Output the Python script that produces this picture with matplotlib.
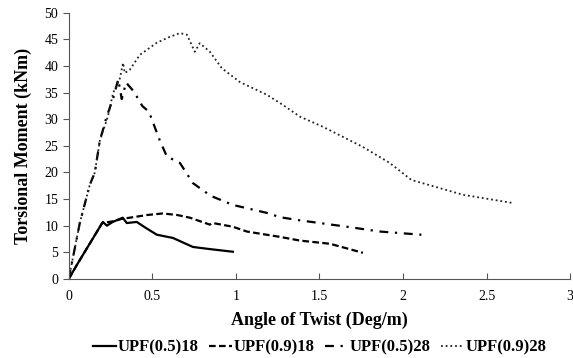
import numpy as np
import matplotlib.pyplot as plt

plt.rcParams["font.family"] = "Liberation Serif"

# UPF(0.5)18
x1 = [0, 0.05, 0.1, 0.15, 0.204, 0.228, 0.263, 0.323, 0.347, 0.407, 0.46, 0.527, 0.623, 0.743, 0.844, 0.982]
y1 = [0, 2.7, 5.3, 7.9, 10.7, 10.0, 10.7, 11.5, 10.5, 10.7, 9.6, 8.3, 7.7, 6.0, 5.6, 5.1]
# UPF(0.9)18
x2 = [0, 0.05, 0.1, 0.15, 0.2, 0.26, 0.32, 0.365, 0.467, 0.563, 0.65, 0.725, 0.844, 0.862, 0.982,
      1.066, 1.144, 1.263, 1.383, 1.563, 1.76]
y2 = [0, 2.7, 5.3, 7.9, 10.5, 10.8, 11.3, 11.5, 12.0, 12.3, 12.0, 11.5, 10.2, 10.5, 9.8,
      8.9, 8.5, 7.9, 7.2, 6.6, 4.9]
# UPF(0.5)28
x3 = [0, 0.025, 0.066, 0.126, 0.156, 0.186, 0.227, 0.266, 0.296, 0.317, 0.343, 0.39, 0.44, 0.48,
      0.545, 0.587, 0.665, 0.743, 0.85, 0.982, 1.186, 1.263, 1.383, 1.665, 1.862, 2.11]
y3 = [0, 4.0, 10.5, 17.7, 20.0, 26.0, 30.5, 34.0, 37.5, 33.8, 36.9, 35.2, 32.5, 31.4,
      26.0, 23.0, 21.8, 18.0, 15.6, 13.9, 12.4, 11.6, 11.0, 9.8, 8.9, 8.3]
# UPF(0.9)28
x4 = [0, 0.025, 0.066, 0.126, 0.156, 0.186, 0.234, 0.266, 0.305, 0.325, 0.335, 0.365, 0.425,
      0.527, 0.605, 0.665, 0.707, 0.754, 0.784, 0.844, 0.916, 1.024, 1.186, 1.281, 1.383,
      1.52, 1.76, 1.92, 2.05, 2.36, 2.65]
y4 = [0, 4.0, 10.5, 17.7, 20.0, 26.0, 30.5, 35.0, 37.6, 40.6, 38.7, 39.3, 42.1,
      44.4, 45.5, 46.2, 45.9, 42.7, 44.3, 42.7, 39.6, 37.0, 34.6, 32.7, 30.5,
      28.6, 24.8, 21.8, 18.6, 15.8, 14.3]

labels = ['UPF(0.5)18', 'UPF(0.9)18', 'UPF(0.5)28', 'UPF(0.9)28']

fig = plt.figure(figsize=(5.73, 3.58), dpi=100)
ax = fig.add_axes([0.120, 0.221, 0.875, 0.743])

ax.plot(x1, y1, color='black', lw=1.6, ls='-', label=labels[0])
ax.plot(x2, y2, color='black', lw=1.6, ls=(0, (3, 1.5)), label=labels[1])
ax.plot(x3, y3, color='black', lw=1.6, ls=(0, (4, 3, 1, 3)), label=labels[2])
ax.plot(x4, y4, color='#222222', lw=1.3, ls=(0, (1, 1.6)), label=labels[3])

ax.set_xlim(0, 3)
ax.set_ylim(0, 50)
ax.set_xticks([0, 0.5, 1, 1.5, 2, 2.5, 3])
ax.set_xticklabels(['0', '0.5', '1', '1.5', '2', '2.5', '3'])
ax.set_yticks(np.arange(0, 51, 5))
ax.spines['top'].set_visible(False)
ax.spines['right'].set_visible(False)
ax.spines['left'].set_color('#555555')
ax.spines['bottom'].set_color('#555555')
ax.tick_params(axis='x', direction='in', length=4, labelsize=10, color='#555555', pad=8)
ax.tick_params(axis='y', direction='out', length=4, labelsize=10, color='#555555')

ax.set_xlabel('Angle of Twist (Deg/m)', fontsize=13, fontweight='bold', labelpad=6)
ax.set_ylabel('Torsional Moment (kNm)', fontsize=13, fontweight='bold', labelpad=9)

fig.legend(loc='lower center', bbox_to_anchor=(0.558, -0.035), ncol=4, frameon=False,
           prop={'size': 12, 'weight': 'bold'}, handlelength=1.4, handletextpad=0.1,
           columnspacing=0.6)

plt.savefig('out.png', dpi=100)
